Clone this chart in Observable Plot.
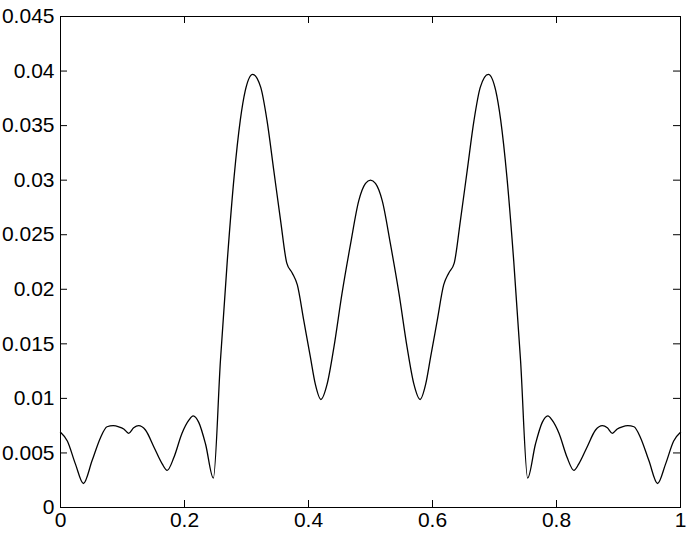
<!DOCTYPE html>
<html>
<head>
<meta charset="utf-8">
<script src="https://cdn.jsdelivr.net/npm/d3@7"></script>
<script src="https://cdn.jsdelivr.net/npm/@observablehq/plot@0.6"></script>
<style>
  html, body { margin: 0; padding: 0; background: #fff; }
  svg { display: block; }
</style>
</head>
<body>
<div id="chart"></div>
<script>
const xValues = [
  0.000, 0.011, 0.024, 0.037, 0.051, 0.0645, 0.075, 0.085, 0.094, 0.102,
  0.110, 0.118, 0.126, 0.137, 0.151, 0.164, 0.172, 0.183, 0.196, 0.207,
  0.214, 0.223, 0.234, 0.2465, 0.258, 0.269, 0.280, 0.290, 0.298, 0.310,
  0.323, 0.333, 0.344, 0.355, 0.365, 0.3737, 0.382, 0.3925, 0.403, 0.411,
  0.420, 0.430, 0.441, 0.454, 0.468, 0.481, 0.492, 0.500,
  0.508, 0.519, 0.532, 0.546, 0.559, 0.570, 0.580, 0.589, 0.597, 0.6075,
  0.618, 0.6263, 0.635, 0.645, 0.656, 0.667, 0.677, 0.690, 0.702, 0.710,
  0.720, 0.731, 0.742, 0.7535, 0.766, 0.777, 0.786, 0.793, 0.804, 0.817,
  0.828, 0.836, 0.849, 0.863, 0.874, 0.882, 0.890, 0.898, 0.906, 0.915,
  0.925, 0.9355, 0.949, 0.963, 0.976, 0.989, 1.000
];
const yValues = [
  0.0069, 0.0061, 0.0040, 0.0022, 0.0043, 0.0064, 0.0074, 0.0075, 0.0074, 0.0072,
  0.0068, 0.0073, 0.0075, 0.0071, 0.0055, 0.0040, 0.0034, 0.0046, 0.0068, 0.0080,
  0.0084, 0.0078, 0.0058, 0.0027, 0.0135, 0.0226, 0.0303, 0.0355, 0.0382, 0.0397,
  0.0385, 0.0355, 0.0309, 0.0263, 0.0224, 0.0215, 0.0204, 0.0171, 0.0138, 0.0113,
  0.0099, 0.0113, 0.0147, 0.0196, 0.0242, 0.0281, 0.0297, 0.0300,
  0.0297, 0.0281, 0.0242, 0.0196, 0.0147, 0.0113, 0.0099, 0.0113, 0.0138, 0.0171,
  0.0204, 0.0215, 0.0224, 0.0263, 0.0309, 0.0355, 0.0385, 0.0397, 0.0382, 0.0355,
  0.0303, 0.0226, 0.0135, 0.0027, 0.0058, 0.0078, 0.0084, 0.0080, 0.0068, 0.0046,
  0.0034, 0.0040, 0.0055, 0.0071, 0.0075, 0.0073, 0.0068, 0.0072, 0.0074, 0.0075,
  0.0074, 0.0064, 0.0043, 0.0022, 0.0040, 0.0061, 0.0069
];
const xTicks = [0, 0.2, 0.4, 0.6, 0.8, 1];
const xTickLabels = ["0", "0.2", "0.4", "0.6", "0.8", "1"];
const yTicks = [0, 0.005, 0.01, 0.015, 0.02, 0.025, 0.03, 0.035, 0.04, 0.045];
const yTickLabels = ["0", "0.005", "0.01", "0.015", "0.02", "0.025", "0.03", "0.035", "0.04", "0.045"];

const data = xValues.map((x, i) => ({x, y: yValues[i]}));
const xLab = new Map(xTicks.map((t, i) => [t, xTickLabels[i]]));
const yLab = new Map(yTicks.map((t, i) => [t, yTickLabels[i]]));

const chart = Plot.plot({
  width: 692,
  height: 536,
  marginLeft: 60,
  marginRight: 12,
  marginTop: 16,
  marginBottom: 29,
  style: {fontFamily: "'Liberation Sans', Arial, sans-serif", fontSize: "21px", color: "#000", background: "#fff"},
  x: {domain: [0, 1]},
  y: {domain: [0, 0.045]},
  marks: [
    Plot.line(data, {x: "x", y: "y", stroke: "#000", strokeWidth: 1.3, curve: "monotone-x"}),
    Plot.frame({stroke: "#000", strokeWidth: 1}),
    Plot.axisX({anchor: "bottom", ticks: xTicks, tickSize: 0, tickPadding: 5, tickFormat: d => xLab.get(d), label: null, fontSize: 21}),
    Plot.axisY({anchor: "left", ticks: yTicks, tickSize: 0, tickPadding: 6, tickFormat: d => yLab.get(d), label: null, fontSize: 21}),
    Plot.tickX(xTicks, {x: d => d, insetTop: 484, stroke: "#000"}),
    Plot.tickX(xTicks, {x: d => d, insetBottom: 484, stroke: "#000"}),
    Plot.tickY(yTicks, {y: d => d, insetRight: 613, stroke: "#000"}),
    Plot.tickY(yTicks, {y: d => d, insetLeft: 613, stroke: "#000"})
  ]
});
document.getElementById("chart").appendChild(chart);
</script>
</body>
</html>
